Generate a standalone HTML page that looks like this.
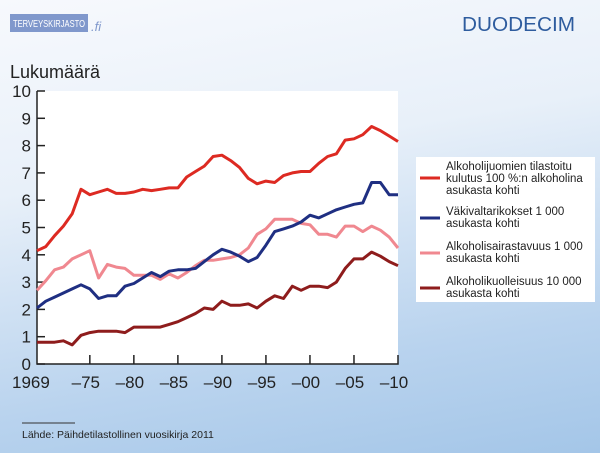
<!DOCTYPE html>
<html><head><meta charset="utf-8"><style>
body{margin:0;width:600px;height:453px;overflow:hidden;font-family:"Liberation Sans",sans-serif;
background:linear-gradient(170deg,#f7f9fd 0%,#e8f0f9 35%,#b9d3ee 75%,#a4c6e8 100%);}
</style></head><body>
<svg width="600" height="453" viewBox="0 0 600 453" xmlns="http://www.w3.org/2000/svg" style="position:absolute;left:0;top:0">
<rect x="10" y="14" width="78" height="18" fill="#8098cc"/>
<text x="13" y="27" font-size="10" fill="#fff" textLength="72" lengthAdjust="spacingAndGlyphs">TERVEYSKIRJASTO</text>
<text x="91" y="31" font-size="13" fill="#8098cc" font-style="italic">.fi</text>
<text x="462" y="31" font-size="20" fill="#2e5c9e" textLength="113" lengthAdjust="spacingAndGlyphs">DUODECIM</text>
<text x="10" y="78" font-size="18" fill="#222">Lukumäärä</text>
<rect x="37" y="91" width="361" height="273" fill="#fff"/>
<g id="ax" stroke="#222" stroke-width="1.5" fill="none"></g>
<g id="lab" font-size="17" fill="#222"></g>
<g id="ser" fill="none" stroke-width="3" stroke-linejoin="round"></g>
<rect x="416" y="157" width="179" height="145" fill="#fff"/>
<g font-size="11.5" fill="#222">
<line x1="420" y1="178" x2="440" y2="178" stroke="#dd2a22" stroke-width="3"/>
<text x="446" y="170">Alkoholijuomien tilastoitu</text>
<text x="446" y="182">kulutus 100 %:n alkoholina</text>
<text x="446" y="194">asukasta kohti</text>
<line x1="420" y1="218" x2="440" y2="218" stroke="#1f2f82" stroke-width="3"/>
<text x="446" y="215">Väkivaltarikokset 1 000</text>
<text x="446" y="227">asukasta kohti</text>
<line x1="420" y1="253" x2="440" y2="253" stroke="#f08890" stroke-width="3"/>
<text x="446" y="250">Alkoholisairastavuus 1 000</text>
<text x="446" y="262">asukasta kohti</text>
<line x1="420" y1="288" x2="440" y2="288" stroke="#8e1c1c" stroke-width="3"/>
<text x="446" y="285">Alkoholikuolleisuus 10 000</text>
<text x="446" y="297">asukasta kohti</text>
</g>
<line x1="22" y1="423" x2="75" y2="423" stroke="#333" stroke-width="1"/>
<text x="22" y="438" font-size="10.5" fill="#222">Lähde: Päihdetilastollinen vuosikirja 2011</text>
</svg>
<script>
var X=function(y){return 37+(y-1969)*8.805},Y=function(v){return 364-v*27.3};
var ax=document.getElementById('ax'),lab=document.getElementById('lab'),ser=document.getElementById('ser');
var s='<path d="M37 91V364H398V355"/>';
for(var i=0;i<=10;i++){s+='<line x1="37" x2="45" y1="'+Y(i)+'" y2="'+Y(i)+'"/>';
lab.innerHTML+='<text x="31" y="'+(Y(i)+6)+'" text-anchor="end">'+i+'</text>';}
var yrs=[1975,1980,1985,1990,1995,2000,2005],nm=['–75','–80','–85','–90','–95','–00','–05'];
for(i=0;i<yrs.length;i++){s+='<line x1="'+X(yrs[i])+'" x2="'+X(yrs[i])+'" y1="364" y2="355"/>';
lab.innerHTML+='<text x="'+(X(yrs[i])-4)+'" y="388" text-anchor="middle">'+nm[i]+'</text>';}
lab.innerHTML+='<text x="12" y="388">1969</text><text x="394" y="388" text-anchor="middle">–10</text>';
ax.innerHTML=s;
var D=[
['#8e1c1c',[0.8,0.8,0.8,0.85,0.7,1.05,1.15,1.2,1.2,1.2,1.15,1.35,1.35,1.35,1.35,1.45,1.55,1.7,1.85,2.05,2.0,2.3,2.15,2.15,2.2,2.05,2.3,2.5,2.4,2.85,2.7,2.85,2.85,2.8,3.0,3.5,3.85,3.85,4.1,3.95,3.75,3.6]],
['#f08890',[2.7,3.05,3.45,3.55,3.85,4.0,4.15,3.15,3.65,3.55,3.5,3.25,3.25,3.25,3.1,3.3,3.15,3.35,3.6,3.8,3.8,3.85,3.9,4.0,4.25,4.75,4.95,5.3,5.3,5.3,5.15,5.1,4.75,4.75,4.65,5.05,5.05,4.85,5.05,4.9,4.65,4.25]],
['#1f2f82',[2.05,2.3,2.45,2.6,2.75,2.9,2.75,2.4,2.5,2.5,2.85,2.95,3.15,3.35,3.2,3.4,3.45,3.45,3.5,3.75,4.0,4.2,4.1,3.95,3.75,3.9,4.35,4.85,4.95,5.05,5.2,5.45,5.35,5.5,5.65,5.75,5.85,5.9,6.65,6.65,6.2,6.2]],
['#dd2a22',[4.15,4.3,4.7,5.05,5.5,6.4,6.2,6.3,6.4,6.25,6.25,6.3,6.4,6.35,6.4,6.45,6.45,6.85,7.05,7.25,7.6,7.65,7.45,7.2,6.8,6.6,6.7,6.65,6.9,7.0,7.05,7.05,7.35,7.6,7.7,8.2,8.25,8.4,8.7,8.55,8.35,8.15]]
];
var h='';D.forEach(function(d){var p=d[1].map(function(v,i){return X(1969+i).toFixed(1)+','+Y(v).toFixed(1)}).join(' ');
h+='<polyline stroke="'+d[0]+'" points="'+p+'"/>';});ser.innerHTML=h;
</script>
</body></html>
